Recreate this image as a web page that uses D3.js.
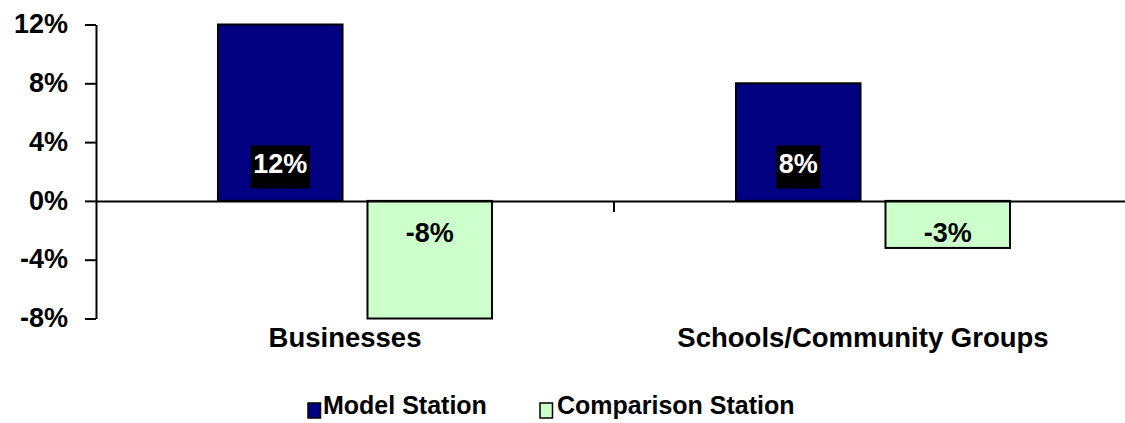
<!DOCTYPE html>
<html>
<head>
<meta charset="utf-8">
<script src="https://cdn.jsdelivr.net/npm/d3@7"></script>
<style>
  html, body { margin: 0; padding: 0; background: #ffffff; }
  svg { display: block; }
  text { font-family: "Liberation Sans", Arial, sans-serif; font-weight: bold; }
</style>
</head>
<body>
<svg id="chart" width="1125" height="423"></svg>
<script>
// ---- data ----
const categories = ["Businesses", "Schools/Community Groups"];
const seriesNames = ["Model Station", "Comparison Station"];
const modelValues = [12, 8];
const comparisonValues = [-8, -3.2];
const valueLabels = [["12%", "-8%"], ["8%", "-3%"]];
const yTicks = [-8, -4, 0, 4, 8, 12];
const yTickLabels = ["-8%", "-4%", "0%", "4%", "8%", "12%"];

// ---- styles ----
const colors = ["#000080", "#CCFFCC"];
const svg = d3.select("#chart");

const x0 = d3.scaleBand().domain(categories).range([96, 1132]).paddingInner(0).paddingOuter(0);
const x1 = d3.scaleBand().domain(seriesNames).range([0, x0.bandwidth()]).paddingInner(0.167).paddingOuter(0.816);
const y = d3.scaleLinear().domain([-8, 12]).range([318.5, 24.5]);

const rows = categories.map((c, i) => ({
  cat: c,
  vals: [
    { s: seriesNames[0], v: modelValues[i], label: valueLabels[i][0], idx: 0 },
    { s: seriesNames[1], v: comparisonValues[i], label: valueLabels[i][1], idx: 1 }
  ]
}));

// y axis
const yAxis = d3.axisLeft(y).tickValues(yTicks).tickFormat((d, i) => yTickLabels[i]).tickSize(11).tickSizeOuter(0).tickPadding(17);
const gy = svg.append("g").attr("transform", "translate(96,0)").call(yAxis);
gy.select(".domain").attr("stroke", "#000").attr("stroke-width", 2);
gy.selectAll(".tick line").attr("stroke", "#000").attr("stroke-width", 2);
gy.selectAll(".tick text").attr("font-size", 27).attr("fill", "#000")
  .attr("font-family", "Liberation Sans, Arial, sans-serif").attr("font-weight", "bold").attr("dy", "0.3em");

// bars
const groups = svg.append("g").selectAll("g").data(rows).join("g")
  .attr("transform", d => `translate(${x0(d.cat)},0)`);

groups.selectAll("rect").data(d => d.vals).join("rect")
  .attr("x", d => x1(d.s))
  .attr("width", x1.bandwidth())
  .attr("y", d => y(Math.max(0, d.v)))
  .attr("height", d => Math.abs(y(d.v) - y(0)))
  .attr("fill", d => colors[d.idx])
  .attr("stroke", "#000")
  .attr("stroke-width", 2);

// category axis (zero line)
const xAxis = d3.axisBottom(x0).tickSize(0).tickFormat("");
const gx = svg.append("g").attr("transform", `translate(0,${y(0)})`).call(xAxis);
gx.select(".domain").attr("stroke", "#000").attr("stroke-width", 2);
gx.selectAll(".tick").remove();
// tick marks between categories
const boundaries = [x0.range()[0] + x0.step(), x0.range()[1]];
gx.selectAll("line.sep").data(boundaries).join("line").attr("class", "sep")
  .attr("x1", d => d).attr("x2", d => d).attr("y1", 0).attr("y2", 11)
  .attr("stroke", "#000").attr("stroke-width", 2);

// category labels
svg.append("g").selectAll("text").data(categories).join("text")
  .attr("x", d => x0(d) + x0.bandwidth() / 2 - 10)
  .attr("y", 347)
  .attr("text-anchor", "middle")
  .attr("font-size", 27.5)
  .attr("fill", "#000")
  .text(d => d);

// data labels
groups.each(function(row) {
  const g = d3.select(this);
  row.vals.forEach(d => {
    const cx = x1(d.s) + x1.bandwidth() / 2;
    if (d.v >= 0) {
      const base = y(0) - 27.5;
      const t = g.append("text").attr("x", cx).attr("y", base).attr("text-anchor", "middle")
        .attr("font-size", 27).attr("fill", "#fff").text(d.label);
      const w = t.node().getComputedTextLength();
      g.insert("rect", "text").attr("x", cx - w / 2 - 2.5).attr("y", base - 28)
        .attr("width", w + 5).attr("height", 43).attr("fill", "#000");
      t.raise();
    } else {
      g.append("text").attr("x", cx).attr("y", y(0) + 41).attr("text-anchor", "middle")
        .attr("font-size", 27).attr("fill", "#000").text(d.label);
    }
  });
});

// legend
const legendItems = [
  { name: seriesNames[0], color: colors[0], sx: 308, tx: 323 },
  { name: seriesNames[1], color: colors[1], sx: 540, tx: 557 }
];
const lg = svg.append("g").selectAll("g").data(legendItems).join("g");
lg.append("rect").attr("x", d => d.sx).attr("y", 403).attr("width", 12.5).attr("height", 15)
  .attr("fill", d => d.color).attr("stroke", "#000").attr("stroke-width", 1.5);
lg.append("text").attr("x", d => d.tx).attr("y", 413.5).attr("font-size", 25).attr("fill", "#000").text(d => d.name);
</script>
</body>
</html>
